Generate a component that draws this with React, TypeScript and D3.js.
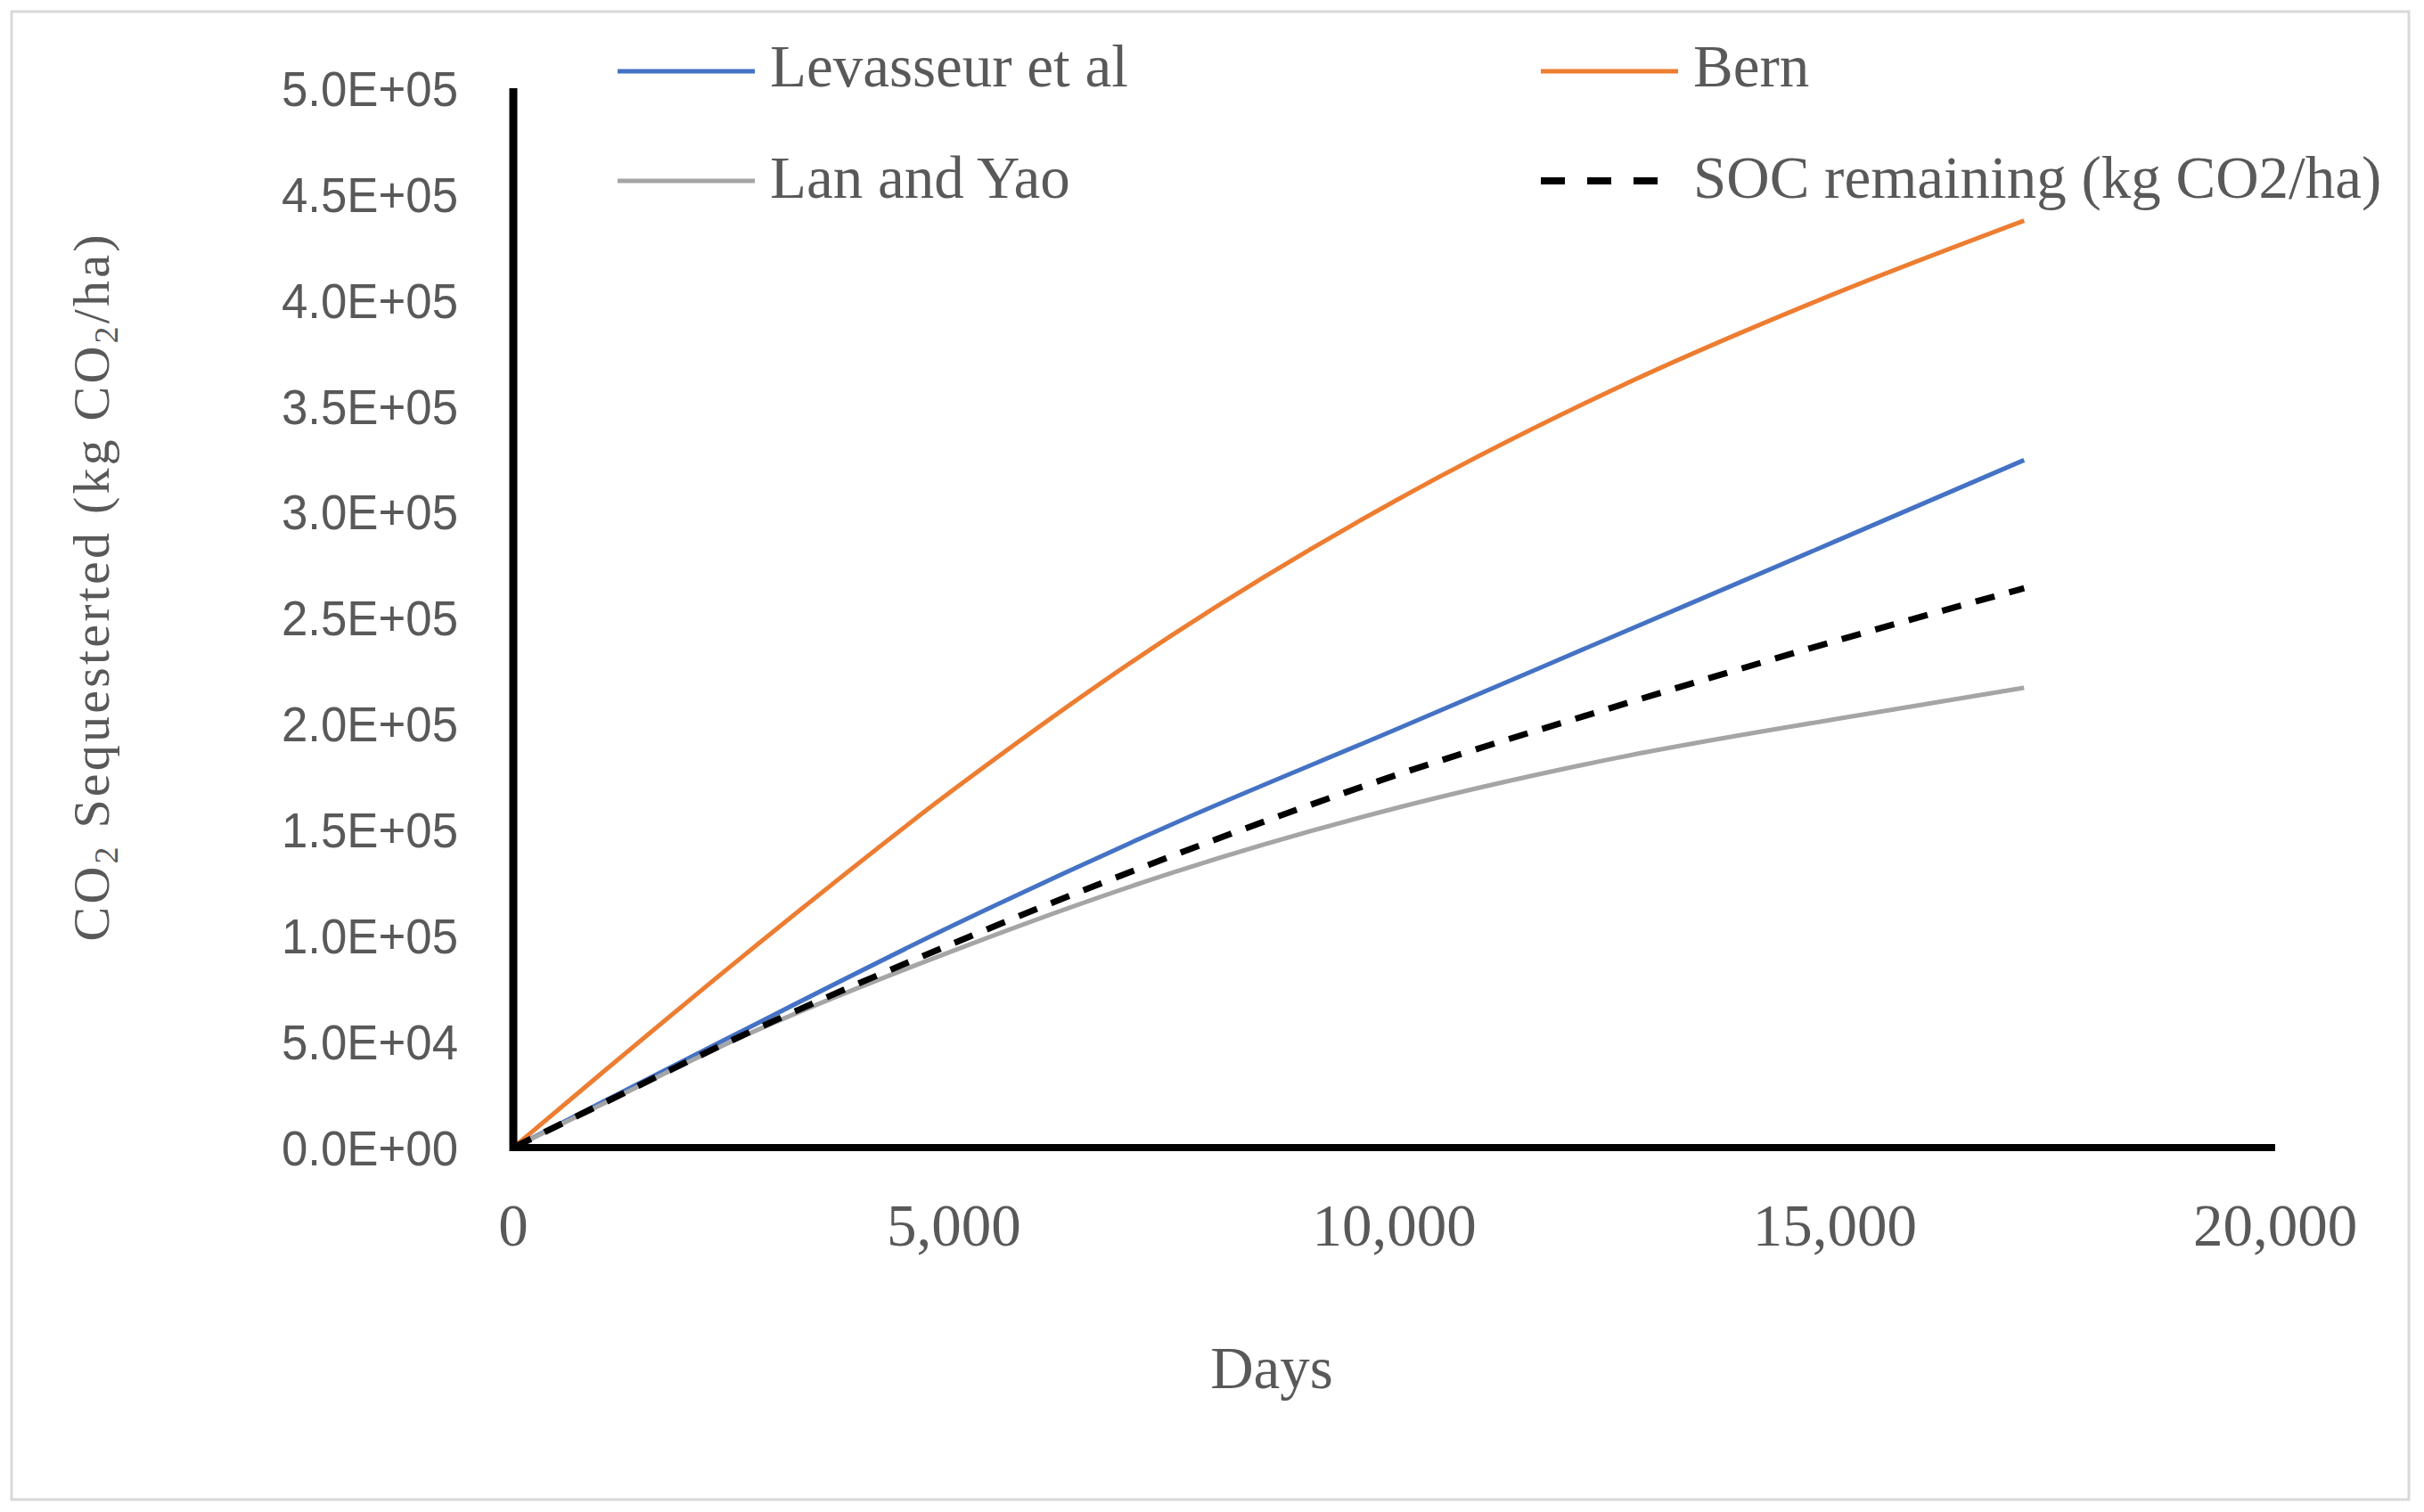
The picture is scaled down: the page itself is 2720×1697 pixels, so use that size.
import React from "react";
import * as d3 from "d3";

const days = [0, 1000, 2500, 5000, 7500, 10000, 12500, 15000, 17150];
const levasseur = [0, 21200, 53000, 105000, 153000, 197000, 241500, 286000, 324500];
const bern = [0, 35000, 86700, 169000, 242500, 305000, 358000, 403000, 437500];
const lanYao = [0, 20300, 50500, 93000, 130000, 160000, 183700, 202200, 217000];
const soc = [0, 20500, 51000, 96500, 138000, 175500, 208000, 239000, 264000];

const yTicks = [0, 50000, 100000, 150000, 200000, 250000, 300000, 350000, 400000, 450000, 500000];
const xTicks = [0, 5000, 10000, 15000, 20000];

const series = [
  { name: "Levasseur et al", values: levasseur, color: "#4472C4", dash: null, width: 5 },
  { name: "Bern", values: bern, color: "#ED7D31", dash: null, width: 5 },
  { name: "Lan and Yao", values: lanYao, color: "#A5A5A5", dash: null, width: 5 },
  { name: "SOC remaining (kg CO2/ha)", values: soc, color: "#000000", dash: "22 17", width: 7 },
];

const W = 2720;
const H = 1697;
const serif = "'Liberation Serif', 'DejaVu Serif', serif";
const sans = "'Liberation Sans', Arial, sans-serif";
const textColor = "#595959";

export default function App() {
  const x = d3.scaleLinear().domain([0, 20000]).range([576, 2553]);
  const y = d3.scaleLinear().domain([0, 500000]).range([1288, 99]);

  const line = d3
    .line<[number, number]>()
    .x((d) => x(d[0]))
    .y((d) => y(d[1]))
    .curve(d3.curveMonotoneX);

  const legendPos = [
    { lx: 693, ly: 80, tx: 864, ty: 97 },
    { lx: 1729, ly: 80, tx: 1900, ty: 97 },
    { lx: 693, ly: 203, tx: 864, ty: 222 },
    { lx: 1729, ly: 203, tx: 1900, ty: 222 },
  ];

  const fmtY = (t: number) =>
    t.toExponential(1).toUpperCase().replace(/E([+-])(\d)$/, "E$10$2");

  return (
    <svg
      width={W}
      height={H}
      viewBox={`0 0 ${W} ${H}`}
      style={{ position: "absolute", left: 0, top: 0, display: "block", background: "#fff" }}
    >
      <rect x={0} y={0} width={W} height={H} fill="#fff" />
      <rect x={13} y={13} width={2690} height={1670} fill="none" stroke="#D9D9D9" strokeWidth={3} />

      {/* Y tick labels */}
      {yTicks.map((t) => (
        <text
          key={t}
          x={514}
          y={y(t)}
          dy="0.36em"
          textAnchor="end"
          fontFamily={sans}
          fontSize={55}
          fill={textColor}
          textLength={198}
          lengthAdjust="spacingAndGlyphs"
        >
          {fmtY(t)}
        </text>
      ))}

      {/* X tick labels */}
      {xTicks.map((t) => (
        <text
          key={t}
          x={x(t)}
          y={1398}
          textAnchor="middle"
          fontFamily={serif}
          fontSize={67}
          fill={textColor}
        >
          {d3.format(",")(t)}
        </text>
      ))}

      {/* Axis titles */}
      <text x={1427} y={1558} textAnchor="middle" fontFamily={serif} fontSize={67} fill={textColor}>
        Days
      </text>
      <text
        transform={`translate(122, 660) rotate(-90)`}
        textAnchor="middle"
        fontFamily={serif}
        fontSize={58}
        fill={textColor}
        textLength={793}
        lengthAdjust="spacing"
      >
        CO<tspan fontSize={38} dy={10}>2</tspan>
        <tspan dy={-10}> Sequesterted (kg CO</tspan>
        <tspan fontSize={38} dy={10}>2</tspan>
        <tspan dy={-10}>/ha)</tspan>
      </text>

      {/* Series */}
      {series.map((s) => (
        <path
          key={s.name}
          d={line(days.map((d, i) => [d, s.values[i]] as [number, number])) || ""}
          fill="none"
          stroke={s.color}
          strokeWidth={s.width}
          strokeDasharray={s.dash || undefined}
        />
      ))}

      {/* Axes */}
      <line x1={x(0)} x2={x(20000)} y1={y(0)} y2={y(0)} stroke="#000" strokeWidth={8} />
      <line x1={x(0)} x2={x(0)} y1={y(0) + 4} y2={y(500000)} stroke="#000" strokeWidth={9} />

      {/* Legend */}
      {series.map((s, i) => {
        const p = legendPos[i];
        return (
          <g key={s.name}>
            <line
              x1={p.lx}
              x2={p.lx + (s.dash ? 132 : 154)}
              y1={p.ly}
              y2={p.ly}
              stroke={s.color}
              strokeWidth={s.dash ? 8 : 5}
              strokeDasharray={s.dash ? "27 25" : undefined}
            />
            <text x={p.tx} y={p.ty} fontFamily={serif} fontSize={67} fill={textColor}>
              {s.name}
            </text>
          </g>
        );
      })}
    </svg>
  );
}
